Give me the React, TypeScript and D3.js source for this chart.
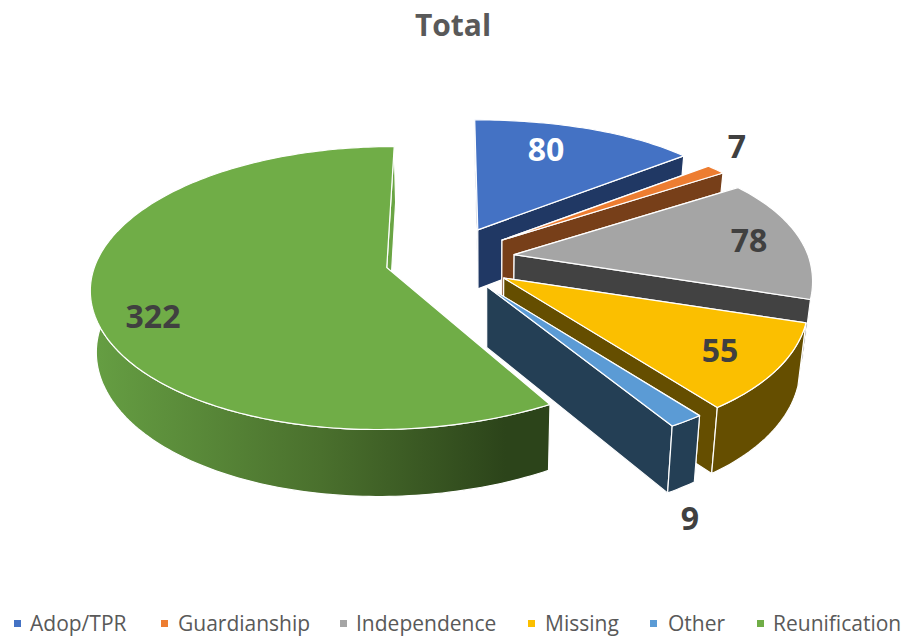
import React from "react";
import * as d3 from "d3";

const categories = ["Adop/TPR", "Guardianship", "Independence", "Missing", "Other", "Reunification"];
const values = [80, 7, 78, 55, 9, 322];
const topColors = ["#4472c4", "#ed7d31", "#a5a5a5", "#fbbf00", "#5b9bd5", "#70ad47"];
const sideColors = ["#203864", "#773f19", "#424242", "#654e00", "#243f55", "url(#greenSide)"];
const cutColors = ["#203864", "#773f19", "#424242", "#654e00", "#243f55", "#6aa544"];
const labelColors = ["#ffffff", "#404040", "#404040", "#404040", "#404040", "#404040"];

const W = 907, H = 637;
const centre = { x: 450, y: 259 };
const explode = 65;
const squash = 0.5;
const labelAt: [number, number][] = [[546, 161], [737, 158], [749, 252], [720, 362], [690, 530], [153, 328]];
const legendMarkX = [14, 161, 340, 528, 650, 757];
const legendTextX = [30, 178, 356, 545, 668, 773];
const FONT = "'Open Sans', sans-serif";
const LEFT_SLICE = categories.length - 1;

type P = [number, number];

const persp = (wx: number, y: number): P => [centre.x + wx * (1 + (y - centre.y) * 0.00098), y];
const rim = (a: P, t: number, slice: number): P => {
  const c = Math.cos(t), s = Math.sin(t);
  const isLeft = slice === LEFT_SLICE;
  const rx = isLeft ? 290 + 14 * Math.max(0, s) : c < 0 ? 295 + 16 * c * c : 291 + 4 * (1 - c);
  const ry = isLeft ? 138 - 24 * c + 7 * Math.max(0, c) : 138 - 28 * c;
  return persp(a[0] + rx * s, a[1] - c * ry);
};
const drop = ([x, y]: P): P => [490 + (x - 490) * (x < 490 ? 0.985 : 0.975), y + 59 + (y - 230) * 0.04];
const arcPts = (a: P, t0: number, t1: number, slice: number): P[] => {
  const n = Math.max(2, Math.ceil(Math.abs(t1 - t0) / 0.02));
  return d3.range(n + 1).map((i) => rim(a, t0 + ((t1 - t0) * i) / n, slice));
};
const path = d3.line<P>().x((d) => d[0]).y((d) => d[1]);
const closed = (pts: P[]) => path(pts) + "Z";

const pieGen = d3.pie<number>().sort(null).value((d) => d).startAngle(0).endAngle(2 * Math.PI);
const arcs = pieGen(values);
const frontFrom = (108 * Math.PI) / 180, frontTo = (273 * Math.PI) / 180;

export default function App() {
  return (
    <svg width={W} height={H} viewBox={`0 0 ${W} ${H}`} style={{ position: "absolute", left: 0, top: 0, display: "block", background: "#fff" }}>
      <defs>
        <linearGradient id="greenSide" gradientUnits="userSpaceOnUse" x1={90} x2={552} y1={0} y2={0}>
          <stop offset="0" stopColor="#669f43" />
          <stop offset="0.5" stopColor="#4a702d" />
          <stop offset="0.9" stopColor="#2c441a" />
          <stop offset="1" stopColor="#2c441a" />
        </linearGradient>
      </defs>
      <text x={453} y={36} textAnchor="middle" fontFamily={FONT} fontWeight={700} fontSize={30} fill="#595959">Total</text>
      {arcs.map((d, i) => {
        const mid = (d.startAngle + d.endAngle) / 2;
        const wa: P = [explode * Math.sin(mid), centre.y - explode * squash * Math.cos(mid)];
        const apex = persp(wa[0], wa[1]);
        const pts = arcPts(wa, d.startAngle, d.endAngle, i);
        const first = pts[0], last = pts[pts.length - 1];
        const cut = (p: P) => closed([apex, p, drop(p), drop(apex)]);
        const f0 = Math.max(d.startAngle, frontFrom), f1 = Math.min(d.endAngle, frontTo);
        const front = f1 > f0 ? arcPts(wa, f0, f1, i) : null;
        return (
          <g key={categories[i]} stroke="#fff" strokeWidth={1.2} strokeLinejoin="round">
            <path d={cut(first)} fill={cutColors[i]} />
            <path d={cut(last)} fill={cutColors[i]} />
            {front && <path d={closed([...front, ...front.slice().reverse().map(drop)])} fill={sideColors[i]} />}
            <path d={closed([apex, ...pts])} fill={topColors[i]} />
          </g>
        );
      })}
      {values.map((v, i) => (
        <text key={i} x={labelAt[i][0]} y={labelAt[i][1]} textAnchor="middle" fontFamily={FONT} fontWeight={700} fontSize={32} fill={labelColors[i]}>{v}</text>
      ))}
      {categories.map((c, i) => (
        <g key={c}>
          <rect x={legendMarkX[i]} y={620} width={7} height={7} fill={topColors[i]} />
          <text x={legendTextX[i]} y={631} fontFamily={FONT} fontSize={21} fill="#595959">{c}</text>
        </g>
      ))}
    </svg>
  );
}
